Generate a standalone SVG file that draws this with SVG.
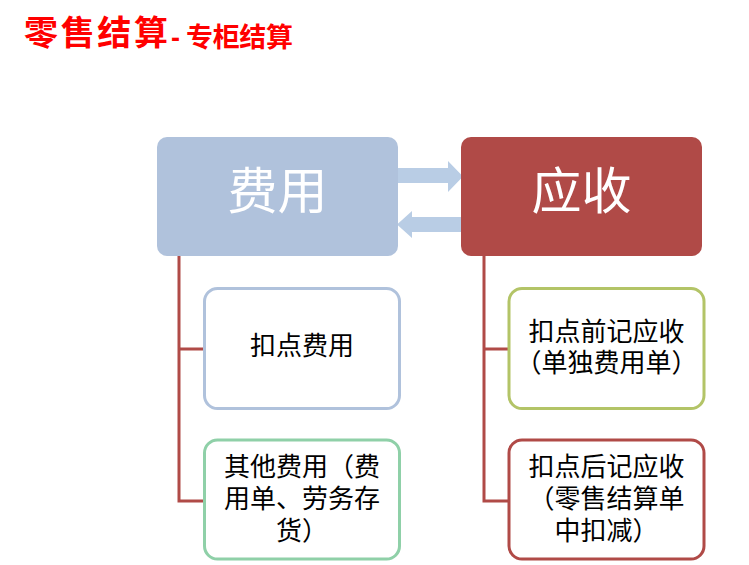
<svg xmlns="http://www.w3.org/2000/svg" width="749" height="565" viewBox="0 0 749 565">
<style>
.t{font-family:"Liberation Sans","Noto Sans CJK SC",sans-serif;}
.title{fill:#FF0000;font-weight:bold;}
.big{fill:#FFFFFF;font-size:50px;text-anchor:middle;}
.lbl{fill:#000000;font-size:26px;text-anchor:middle;}
.child{fill:#FFFFFF;stroke-width:3;}
.conn{fill:none;stroke:#B04A47;stroke-width:3;}
.arr{fill:#B9CDE5;}
</style>
<rect width="749" height="565" fill="#FFFFFF"/>
<g id="title">
<text class="t title" x="24" y="45" font-size="34" textLength="144" lengthAdjust="spacing">零售结算</text>
<text class="t title" x="171" y="47" font-size="27">-</text>
<text class="t title" x="186" y="47" font-size="27" textLength="107" lengthAdjust="spacing">专柜结算</text>
</g>
<g id="connectors">
<path class="conn" d="M179,256 V501 H204 M179,349 H204"/>
<path class="conn" d="M484,256 V501 H508 M484,349 H508"/>
<polygon class="arr" points="397,168 448,168 448,161 463,176.5 448,192 448,183 397,183"/>
<polygon class="arr" points="461,217 412,217 412,211 397,224.5 412,238 412,232 461,232"/>
</g>
<g id="feiyong">
<rect x="157" y="137" width="241" height="119" rx="10" fill="#B0C2DC"/>
<text class="t big" x="277.5" y="209">费用</text>
</g>
<g id="yingshou">
<rect x="461" y="137" width="241" height="119" rx="10" fill="#B04A47"/>
<text class="t big" x="581.5" y="209">应收</text>
</g>
<g id="koudian">
<rect class="child" x="204.5" y="288.5" width="195" height="120" rx="13" stroke="#B0C2DC"/>
<text class="t lbl" x="302" y="355">扣点费用</text>
</g>
<g id="qita">
<rect class="child" x="204.5" y="440" width="195" height="119" rx="13" stroke="#8FD0A8"/>
<text class="t lbl" x="302" y="476">其他费用（费</text>
<text class="t lbl" x="302" y="508">用单、劳务存</text>
<text class="t lbl" x="302" y="540">货）</text>
</g>
<g id="qianji">
<rect class="child" x="509" y="288.5" width="195" height="120" rx="13" stroke="#B3C467"/>
<text class="t lbl" x="606.5" y="341">扣点前记应收</text>
<text class="t lbl" x="606.5" y="372">（单独费用单）</text>
</g>
<g id="houji">
<rect class="child" x="509" y="440" width="195" height="119" rx="13" stroke="#B04A47"/>
<text class="t lbl" x="606.5" y="476">扣点后记应收</text>
<text class="t lbl" x="606.5" y="508">（零售结算单</text>
<text class="t lbl" x="606.5" y="540">中扣减）</text>
</g>
</svg>
